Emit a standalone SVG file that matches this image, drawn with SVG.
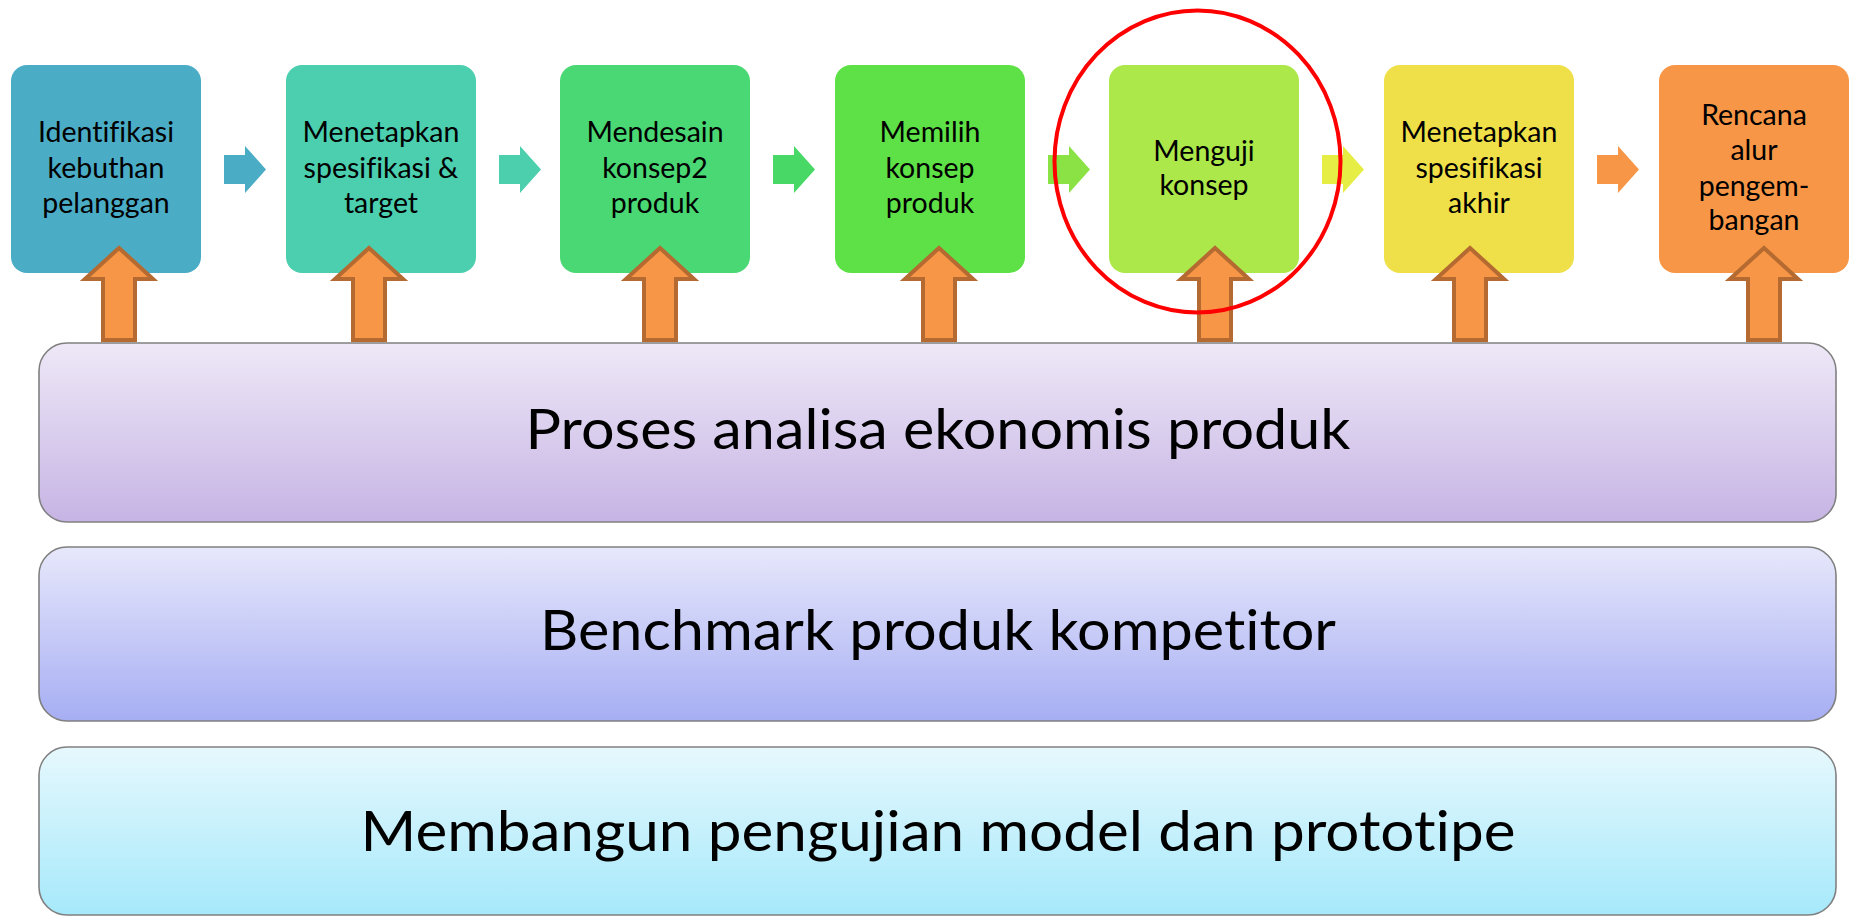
<svg xmlns="http://www.w3.org/2000/svg" width="1853" height="917" viewBox="0 0 1853 917">
<style>
.box{stroke:none}
.t{font-family:Lato,"Open Sans","Liberation Sans",sans-serif;font-size:28.5px;fill:#000;text-anchor:middle;font-variant-ligatures:none}
.big{font-family:Lato,"Open Sans","Liberation Sans",sans-serif;font-size:56px;fill:#000;text-anchor:middle;font-variant-ligatures:none}
.bar{stroke:#808080;stroke-width:1.6}
.up{fill:#F79646;stroke:#B46A30;stroke-width:4;stroke-linejoin:miter}
</style>
<defs>
<linearGradient id="g1" x1="0" y1="0" x2="0" y2="1"><stop offset="0" stop-color="#EEE8F7"/><stop offset="1" stop-color="#C6B4E4"/></linearGradient>
<linearGradient id="g2" x1="0" y1="0" x2="0" y2="1"><stop offset="0" stop-color="#E7E8FB"/><stop offset="1" stop-color="#A6AEF3"/></linearGradient>
<linearGradient id="g3" x1="0" y1="0" x2="0" y2="1"><stop offset="0" stop-color="#E6F8FD"/><stop offset="1" stop-color="#A6E9FB"/></linearGradient>
<path id="ra" d="M0,155 H21 V146 L42,169.5 L21,193 V184 H0 Z"/>
<path id="ua" d="M0,248 L34,279 H16 V340 H-16 V279 H-34 Z"/>
</defs>

<g id="bar-ekonomis">
<rect class="bar" x="39" y="343" width="1797" height="179" rx="28" fill="url(#g1)"/>
<text class="big" x="938" y="449" textLength="825" lengthAdjust="spacingAndGlyphs">Proses analisa ekonomis produk</text>
</g>
<g id="bar-benchmark">
<rect class="bar" x="39" y="547" width="1797" height="174" rx="28" fill="url(#g2)"/>
<text class="big" x="938" y="650" textLength="796" lengthAdjust="spacingAndGlyphs">Benchmark produk kompetitor</text>
</g>
<g id="bar-prototipe">
<rect class="bar" x="39" y="747" width="1797" height="168" rx="28" fill="url(#g3)"/>
<text class="big" x="938" y="851" textLength="1155" lengthAdjust="spacingAndGlyphs">Membangun pengujian model dan prototipe</text>
</g>

<g id="n1">
<rect class="box" x="11" y="65" width="190" height="208" rx="16" fill="#4BACC6"/>
<text class="t" x="106" y="142">Identifikasi</text>
<text class="t" x="106" y="178">kebuthan</text>
<text class="t" x="106" y="213">pelanggan</text>
</g>
<g id="n2">
<rect class="box" x="286" y="65" width="190" height="208" rx="16" fill="#4BCFAF"/>
<text class="t" x="381" y="142">Menetapkan</text>
<text class="t" x="381" y="178">spesifikasi &amp;</text>
<text class="t" x="381" y="213">target</text>
</g>
<g id="n3">
<rect class="box" x="560" y="65" width="190" height="208" rx="16" fill="#4AD875"/>
<text class="t" x="655" y="142">Mendesain</text>
<text class="t" x="655" y="178">konsep2</text>
<text class="t" x="655" y="213">produk</text>
</g>
<g id="n4">
<rect class="box" x="835" y="65" width="190" height="208" rx="16" fill="#5EE147"/>
<text class="t" x="930" y="142">Memilih</text>
<text class="t" x="930" y="178">konsep</text>
<text class="t" x="930" y="213">produk</text>
</g>
<g id="n5">
<rect class="box" x="1109" y="65" width="190" height="208" rx="16" fill="#ACE84A"/>
<text class="t" x="1204" y="161">Menguji</text>
<text class="t" x="1204" y="195">konsep</text>
</g>
<g id="n6">
<rect class="box" x="1384" y="65" width="190" height="208" rx="16" fill="#EFE049"/>
<text class="t" x="1479" y="142">Menetapkan</text>
<text class="t" x="1479" y="178">spesifikasi</text>
<text class="t" x="1479" y="213">akhir</text>
</g>
<g id="n7">
<rect class="box" x="1659" y="65" width="190" height="208" rx="16" fill="#F79646"/>
<text class="t" x="1754" y="125">Rencana</text>
<text class="t" x="1754" y="160">alur</text>
<text class="t" x="1754" y="196">pengem-</text>
<text class="t" x="1754" y="230">bangan</text>
</g>

<g id="connectors">
<use href="#ra" x="224" fill="#4BACC6"/>
<use href="#ra" x="499" fill="#4BCFAD"/>
<use href="#ra" x="773" fill="#47D866"/>
<use href="#ra" x="1048" fill="#8AE244"/>
<use href="#ra" x="1322" fill="#E6EE46"/>
<use href="#ra" x="1597" fill="#F79646"/>
<use href="#ua" x="119" class="up"/>
<use href="#ua" x="369" class="up"/>
<use href="#ua" x="660" class="up"/>
<use href="#ua" x="939" class="up"/>
<use href="#ua" x="1215" class="up"/>
<use href="#ua" x="1470" class="up"/>
<use href="#ua" x="1764" class="up"/>
</g>

<g id="highlight">
<ellipse cx="1197.5" cy="161.5" rx="143" ry="151" fill="none" stroke="#FF0000" stroke-width="4"/>
</g>
</svg>
